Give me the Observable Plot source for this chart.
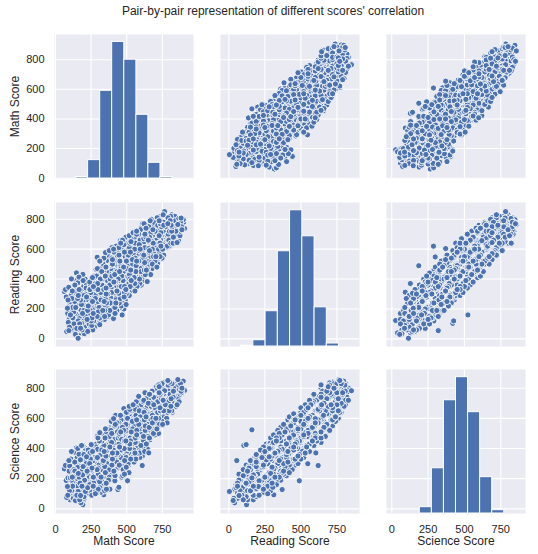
<!DOCTYPE html>
<html>
<head>
<meta charset="utf-8">
<script src="https://cdn.jsdelivr.net/npm/d3@7"></script>
<script src="https://cdn.jsdelivr.net/npm/@observablehq/plot@0.6"></script>
<style>
html,body{margin:0;padding:0;background:#fff;}
#page{position:relative;width:538px;height:554px;overflow:hidden;font-family:"Liberation Sans",Arial,sans-serif;}
#title{position:absolute;left:0;width:546px;top:4px;text-align:center;font-size:12px;color:#262626;}
.cell{position:absolute;}
.cell svg{display:block;background:transparent;}
</style>
</head>
<body>
<div id="page"><div id="title">Pair-by-pair representation of different scores' correlation</div></div>
<script>
// [math, reading, science] rows, grouped by math level
const band060 = [[62,316,265],[70,330,288],[93,345,320],[75,280,188],[84,205,148],[94,190,82],[79,49,75],[90,110,150],[98,78,120],[105,160,205],[110,156,240],[100,240,285],[108,290,330],[88,260,205],[94,55,320],[96,130,250],[104,250,150],[112,70,190],[86,170,90],[118,320,210],[102,95,60],[122,140,255],[115,270,120]];
const band110 = [[112,401,380],[147,441,404],[117,111,98],[125,60,70],[140,30,55],[159,4,115],[130,90,135],[138,312,375],[157,375,400],[128,180,215],[150,70,90],[145,130,190],[155,230,275],[135,250,310],[120,210,150],[160,290,235],[152,340,340],[143,165,115],[165,413,362],[170,100,60],[132,50,160],[126,290,170],[148,110,240],[136,360,250],[142,210,90],[154,40,130],[162,160,300],[166,330,210],[156,270,150],[172,60,170],[148,390,290],[128,130,60]];
const band160 = [[192,431,420],[183,104,420],[176,71,88],[192,123,27],[178,40,40],[200,120,80],[210,150,115],[195,200,170],[205,260,190],[185,300,250],[215,340,300],[190,170,225],[220,90,130],[212,220,275],[202,35,70],[175,260,325],[218,280,345],[198,350,370],[208,400,355],[168,135,165],[225,190,135],[186,60,150],[196,320,180],[204,80,190],[214,190,320],[194,390,280],[222,130,250],[206,240,110],[182,230,340],[216,370,240],[226,50,140],[200,170,60],[188,140,280],[210,300,400],[232,260,145]];
const band220 = [[251,120,426],[246,69,95],[230,60,105],[240,130,120],[255,90,90],[265,170,150],[235,230,195],[250,280,240],[270,320,275],[245,360,330],[260,410,380],[275,240,300],[228,300,260],[238,160,215],[268,120,170],[280,210,175],[258,200,265],[272,370,340],[285,465,410],[242,330,370],[262,300,320],[278,150,115],[236,100,220],[248,310,170],[256,140,270],[264,240,110],[274,80,190],[244,190,340],[252,400,260],[266,350,210],[276,180,340],[254,230,380],[282,300,180],[240,380,300],[286,120,230],[270,420,320],[234,290,130],[262,60,150]];
const band280 = [[311,520,505],[293,546,480],[290,110,105],[300,180,130],[310,140,180],[320,260,210],[330,220,260],[295,300,240],[305,350,290],[315,400,340],[325,450,390],[335,500,440],[298,250,300],[288,420,430],[318,310,360],[328,170,150],[339,312,93],[345,280,240],[308,470,450],[296,370,395],[338,360,320],[324,210,165],[311,95,140],[300,380,230],[292,150,260],[302,240,130],[312,120,250],[322,330,190],[332,190,310],[294,470,340],[304,280,400],[314,430,290],[326,360,450],[336,450,320],[342,250,380],[316,520,400],[306,210,330],[328,400,260],[298,330,470],[344,130,220],[320,160,110],[340,540,420]];
const band340 = [[351,577,530],[345,150,120],[360,180,205],[370,230,190],[350,270,300],[380,310,260],[355,340,380],[365,390,340],[375,440,400],[385,490,450],[395,540,500],[348,420,470],[390,280,320],[398,200,230],[372,160,190],[382,360,410],[362,510,470],[392,420,370],[378,250,210],[358,450,510],[368,300,350],[386,590,540],[402,340,300],[350,210,330],[346,190,280],[356,300,170],[366,200,330],[376,350,220],[386,240,370],[396,420,290],[354,480,350],[364,280,430],[374,550,430],[384,400,530],[394,310,440],[352,380,260],[362,430,530],[372,520,390],[382,190,130],[392,500,580],[398,250,200],[368,150,250],[388,470,340],[378,590,480],[358,240,130],[396,610,490],[348,350,480]];
const band400 = [[407,136,190],[417,210,186],[408,600,598],[410,260,220],[420,300,270],[430,350,310],[440,400,360],[450,450,410],[425,500,460],[435,550,510],[445,610,570],[456,657,620],[415,380,430],[428,270,330],[438,370,128],[448,240,290],[445,305,143],[458,330,290],[405,460,500],[422,430,380],[452,520,480],[432,320,370],[442,480,540],[412,530,550],[460,380,340],[418,170,220],[400,530,370],[450,290,440],[404,180,290],[414,310,200],[424,240,360],[434,410,270],[444,280,410],[454,490,350],[406,520,390],[416,430,550],[426,620,490],[436,340,460],[446,560,430],[456,270,390],[410,380,250],[420,460,330],[430,190,290],[440,600,470],[450,350,500],[458,640,510],[402,300,420],[412,580,460],[422,520,620],[432,450,570],[448,400,520],[454,210,330]];
const band460 = [[468,160,524],[480,630,665],[497,300,276],[506,489,186],[513,290,330],[470,240,280],[475,300,260],[485,350,320],[495,400,370],[505,450,420],[515,500,470],[465,420,460],[478,480,520],[488,530,560],[498,580,600],[508,640,640],[518,690,680],[472,560,590],[490,260,300],[500,330,380],[510,548,299],[520,430,400],[482,370,410],[492,450,490],[502,510,550],[512,560,530],[462,350,390],[527,340,320],[500,620,480],[462,220,340],[472,340,220],[482,280,400],[492,430,300],[464,510,380],[474,390,510],[484,580,450],[494,330,450],[466,290,210],[476,450,580],[486,640,510],[496,230,340],[468,600,470],[478,360,480],[488,480,350],[498,520,640],[470,660,540],[480,200,300],[490,550,430],[460,470,590],[494,680,560],[484,310,230]];
const band520 = [[530,320,360],[540,370,340],[550,420,390],[560,470,440],[570,520,490],[580,570,540],[525,620,590],[535,670,650],[545,710,690],[555,630,670],[565,580,620],[575,530,570],[532,450,490],[542,500,530],[552,550,510],[562,400,450],[572,350,400],[584,700,746],[522,400,430],[537,560,600],[547,380,350],[567,660,710],[577,620,590],[558,320,370],[550,440,590],[504,300,420],[514,410,290],[524,350,470],[534,500,370],[544,420,540],[510,600,470],[520,530,650],[530,650,520],[540,320,440],[550,560,430],[506,480,600],[516,370,240],[526,580,450],[536,450,570],[546,680,560],[506,680,560],[518,290,400],[528,460,330],[538,610,490],[548,340,460],[512,530,400],[522,640,660],[532,390,510],[542,550,670],[552,640,520]];
const band580 = [[590,400,370],[600,450,420],[609,620,287],[612,771,700],[620,500,470],[630,550,520],[595,600,570],[605,650,620],[615,700,670],[625,740,720],[635,680,730],[585,520,560],[592,470,510],[602,360,410],[618,420,450],[628,610,650],[638,460,430],[597,690,730],[608,560,600],[622,650,610],[588,630,650],[640,520,560],[612,500,450],[600,740,580],[556,370,490],[566,490,360],[576,420,540],[586,560,430],[596,470,600],[554,680,550],[564,450,330],[574,620,480],[584,380,500],[594,660,530],[560,540,660],[570,720,590],[580,430,560],[590,590,700],[600,520,400],[556,600,470],[566,350,460],[576,680,560],[586,450,590],[596,730,610],[552,410,310],[572,480,610],[582,640,510],[592,370,340]];
const band640 = [[644,383,400],[655,604,371],[662,637,457],[650,450,480],[660,500,470],[670,550,520],[680,600,570],[690,650,620],[645,700,680],[655,750,720],[665,790,760],[675,720,770],[685,680,730],[695,560,610],[648,520,560],[658,580,540],[668,620,660],[678,470,500],[688,760,740],[698,520,490],[652,660,700],[672,490,540],[650,510,640],[604,420,540],[614,540,410],[624,460,590],[634,620,490],[606,710,590],[616,590,710],[626,510,380],[636,740,610],[646,560,690],[610,390,350],[620,670,540],[630,430,550],[640,720,600],[650,600,730],[602,640,510],[612,450,580],[622,770,640],[632,520,640],[642,650,520],[648,480,400],[618,600,480],[628,700,770],[638,570,700],[608,500,640]];
const band700 = [[717,502,540],[725,640,822],[705,550,600],[715,600,570],[725,650,620],[735,700,680],[745,750,730],[755,800,780],[710,780,810],[720,700,750],[730,590,560],[740,620,660],[750,670,640],[760,560,610],[708,660,700],[718,740,710],[728,790,770],[738,820,790],[748,540,580],[758,720,760],[766,851,783],[712,480,530],[654,540,660],[664,680,550],[674,580,700],[684,730,600],[694,620,740],[656,470,590],[666,760,630],[676,520,630],[686,640,510],[696,780,650],[660,610,480],[670,710,590],[680,500,620],[690,570,690],[700,680,800],[658,730,600],[668,430,520],[678,650,780],[688,550,500],[698,610,500],[662,560,690],[672,800,680]];
const band770 = [[784,620,570],[789,770,851],[775,640,650],[785,690,660],[795,740,710],[805,790,760],[815,830,800],[780,800,820],[790,660,700],[800,720,750],[810,640,680],[820,680,640],[830,740,780],[840,790,810],[772,750,690],[812,760,730],[825,810,830],[835,660,700],[845,720,680],[798,620,650],[854,644,690],[704,620,740],[714,530,640],[724,720,600],[734,640,760],[744,790,670],[706,730,610],[716,670,790],[726,570,690],[736,770,650],[746,610,720],[704,510,630],[714,810,690],[724,600,500],[734,550,670],[744,690,810],[754,630,750],[708,590,510],[718,760,640],[728,690,810],[738,660,580],[748,730,830],[758,780,700],[752,600,560],[762,680,790],[772,640,760],[782,790,680],[792,700,820],[756,830,720],[766,720,840],[776,610,720],[786,750,640],[796,660,780],[760,760,650],[770,700,620],[780,650,600],[790,810,720],[800,780,840]];
const band850 = [[859,765,857],[897,797,847],[906,738,785],[870,800,790],[885,750,770],[895,770,800],[860,690,730],[875,720,760],[866,805,820],[882,808,780],[900,780,790],[850,770,830],[806,680,790],[816,720,650],[826,640,740],[836,780,720],[846,700,790],[808,820,740],[818,750,830],[828,680,780],[838,820,770],[856,750,700],[868,760,710],[878,780,830],[888,730,800],[864,660,750],[874,690,800]];
const readingAboveScience = [[200,290,120],[240,330,160],[260,360,190],[290,400,220],[330,440,260],[360,480,300],[400,500,330],[430,560,380],[470,590,420],[500,640,440],[530,670,480],[570,700,520],[600,720,550],[650,760,600],[690,780,640],[280,270,100],[350,420,240],[380,460,290],[440,520,340],[520,610,450],[560,640,470]];
const scienceAboveReading = [[120,70,230],[150,120,290],[170,150,320],[200,190,360],[230,220,390],[280,260,430],[310,290,470],[340,310,490],[390,340,520],[420,380,560],[470,410,590],[520,450,630],[570,500,670],[620,560,720],[660,590,760],[710,640,800],[760,700,835],[130,100,260],[250,240,410],[440,360,540],[490,420,610],[600,530,690]];
const midBand = [[300,320,270],[340,330,380],[380,420,380],[420,390,440],[460,490,440],[500,470,520],[540,530,580],[580,600,650],[620,640,590],[660,680,630],[700,720,670],[260,250,210],[220,210,250],[180,190,150],[160,120,165],[740,710,760]];

const scoreNames = ["Math Score","Reading Score","Science Score"];
const xTicks = [0,250,500,750];
const yTicks = [0,200,400,600,800];
const xDomains = [[-7,969],[-58,907],[-36,920]];
const yDomains = [[-2,970],[-51,912],[-31,924]];
const panelLefts = [54,220,386];
const panelTops = [34,202,369];
const panelW = 139, panelH = 144;

const histEdges = [
  [145,229,314,398,483,568,652,737,822],
  [85,170,255,340,425,510,595,680,765],
  [193,276,359,442,525,608,691,774]
];
const histTops = [
  [8,122,590,920,800,428,104,8],
  [-46,-9,185,586,860,686,211,-31],
  [11,269,720,873,641,210,-9]
];

const rows = [].concat(band060,band110,band160,band220,band280,band340,band400,band460,band520,band580,band640,band700,band770,band850,readingAboveScience,scienceAboveReading,midBand);
const n = rows.length;
const drawOrder = d3.range(n).sort((a,b)=>((a*137)%n)-((b*137)%n)).map(i=>rows[i]);

const page = document.getElementById("page");
const blue = "#4C72B0", panelBg = "#EAEAF2", ink = "#262626";
const mL = 54, mB = 41;

for (let r=0;r<3;r++) for (let c=0;c<3;c++) {
  const left = c===0 ? mL : 1, bottom = r===2 ? mB : 8;
  const marks = [
    Plot.frame({fill:panelBg,stroke:null}),
    Plot.ruleX(xTicks,{stroke:"#fff",strokeWidth:1.1}),
    Plot.ruleY(yTicks,{stroke:"#fff",strokeWidth:1.1})
  ];
  if (r===c) {
    const e = histEdges[c], t = histTops[c], step = e[1]-e[0];
    const bars = t.map((v,i)=>({x1:e[i],x2:i+1<e.length?e[i+1]:e[i]+step,top:v}));
    marks.push(Plot.rect(bars,{x1:"x1",x2:"x2",y1:()=>yDomains[r][0],y2:"top",fill:blue,stroke:"#fff",strokeWidth:1}));
  } else {
    marks.push(Plot.dot(drawOrder,{x:d=>d[c],y:d=>d[r],r:3.1,fill:blue,stroke:"#fff",strokeWidth:0.9}));
  }
  if (c===0) {
    marks.push(Plot.axisY({ticks:yTicks,tickSize:0,tickPadding:10,fontSize:11,label:null,color:ink}));
    marks.push(Plot.text([scoreNames[r]],{frameAnchor:"left",dx:-39,rotate:-90,textAnchor:"middle",lineAnchor:"middle",fontSize:12,fill:ink}));
  }
  if (r===2) {
    marks.push(Plot.axisX({ticks:xTicks,tickSize:0,tickPadding:12,fontSize:11,label:null,color:ink}));
    marks.push(Plot.text([scoreNames[c]],{frameAnchor:"bottom",dy:28,textAnchor:"middle",lineAnchor:"middle",fontSize:12,fill:ink}));
  }
  const fig = Plot.plot({
    width:panelW+left+1,height:panelH+1+bottom,
    marginLeft:left,marginRight:1,marginTop:1,marginBottom:bottom,
    style:{background:"transparent",fontFamily:'"Liberation Sans",Arial,sans-serif',fontSize:"12px",color:ink,overflow:"visible"},
    x:{domain:xDomains[c],axis:null},
    y:{domain:yDomains[r],axis:null},
    marks
  });
  const cell = document.createElement("div");
  cell.className="cell";
  cell.style.left=(panelLefts[c]-left)+"px";
  cell.style.top=(panelTops[r]-1)+"px";
  cell.appendChild(fig);
  page.appendChild(cell);
}
</script>
</body>
</html>
